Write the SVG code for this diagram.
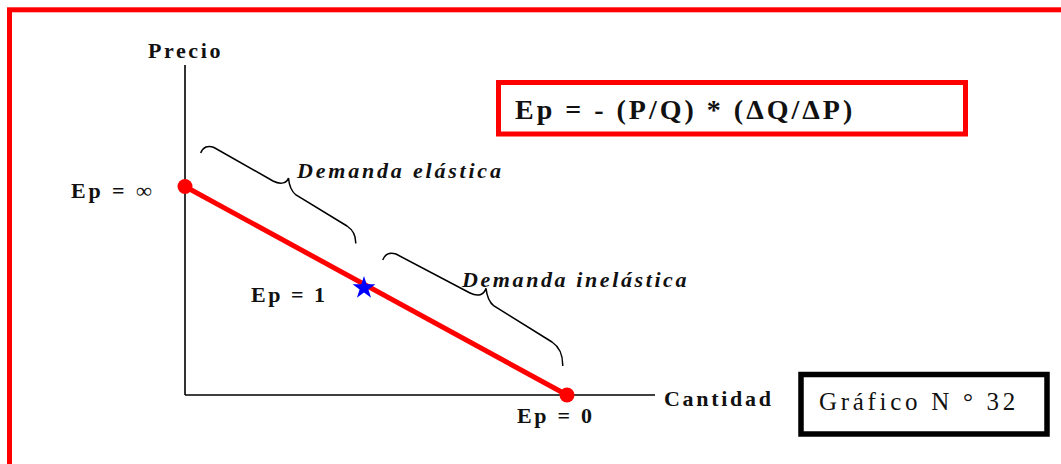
<svg xmlns="http://www.w3.org/2000/svg" width="1061" height="464" viewBox="0 0 1061 464">
<style>
.b{font-family:"Liberation Serif","Times New Roman",serif;font-weight:bold;fill:#111}
.bi{font-family:"Liberation Serif","Times New Roman",serif;font-weight:bold;font-style:italic;fill:#111}
.r{font-family:"Liberation Serif","Times New Roman",serif;fill:#111}
.ax{stroke:#000;stroke-width:1.6;fill:none}
.brace{stroke:#000;stroke-width:1.5;fill:none}
</style>
<rect x="0" y="0" width="1061" height="464" fill="#fff"/>
<rect id="frame" x="9.5" y="9.8" width="1100" height="500" fill="none" stroke="#ff0000" stroke-width="5"/>
<g id="axes">
<line class="ax" x1="185" y1="65" x2="185" y2="395"/>
<line class="ax" x1="185" y1="395" x2="655" y2="395"/>
<text class="b" x="148" y="58" font-size="22" letter-spacing="2.6">Precio</text>
<text class="b" x="664" y="406" font-size="22" letter-spacing="2.7">Cantidad</text>
</g>
<g id="connectors">
<line x1="185" y1="186.5" x2="567" y2="395" stroke="#ff0000" stroke-width="5"/>
<path class="brace" d="M200.7,153 C203,147 208,145 214,147.5 L273,181 C281,185 287,183 288.5,178 C289,184 291,191 296,195 L347,226 C353,230 356,236 355.7,243.5"/>
<path class="brace" d="M382.7,260 C385,254 390,252 396,254 L470,293 C478,297 484,295 486,288.3 C487,297 489,302 494,306 L552,342 C558,346 563,354 562.7,366"/>
</g>
<g id="node-top">
<circle cx="185" cy="186.5" r="7.5" fill="#ff0000"/>
<text class="b" x="71" y="198" font-size="22" letter-spacing="2.9">Ep = ∞</text>
</g>
<g id="node-mid">
<polygon fill="#0000ff" points="364,276 366.7,284.3 375.4,284.3 368.4,289.4 371.1,297.7 364,292.6 356.9,297.7 359.6,289.4 352.6,284.3 361.3,284.3"/>
<text class="b" x="251" y="302" font-size="22" letter-spacing="2.5">Ep = 1</text>
</g>
<g id="node-bottom">
<circle cx="567" cy="395" r="7.5" fill="#ff0000"/>
<text class="b" x="517" y="423" font-size="22" letter-spacing="2.7">Ep = 0</text>
</g>
<g id="label-elastica">
<text class="bi" x="297" y="178" font-size="22" letter-spacing="2.8">Demanda elástica</text>
</g>
<g id="label-inelastica">
<text class="bi" x="462" y="287" font-size="22" letter-spacing="2.6">Demanda inelástica</text>
</g>
<g id="formula">
<rect x="498.5" y="82.5" width="467" height="51.5" fill="none" stroke="#ff0000" stroke-width="5"/>
<text class="b" x="515" y="119" font-size="28" letter-spacing="3">Ep = - (P/Q) * (ΔQ/ΔP)</text>
</g>
<g id="grafico">
<rect x="801" y="374.5" width="246" height="59.5" fill="none" stroke="#000" stroke-width="5.5"/>
<text class="r" x="819" y="410" font-size="25" letter-spacing="3.7">Gráfico N ° 32</text>
</g>
</svg>
